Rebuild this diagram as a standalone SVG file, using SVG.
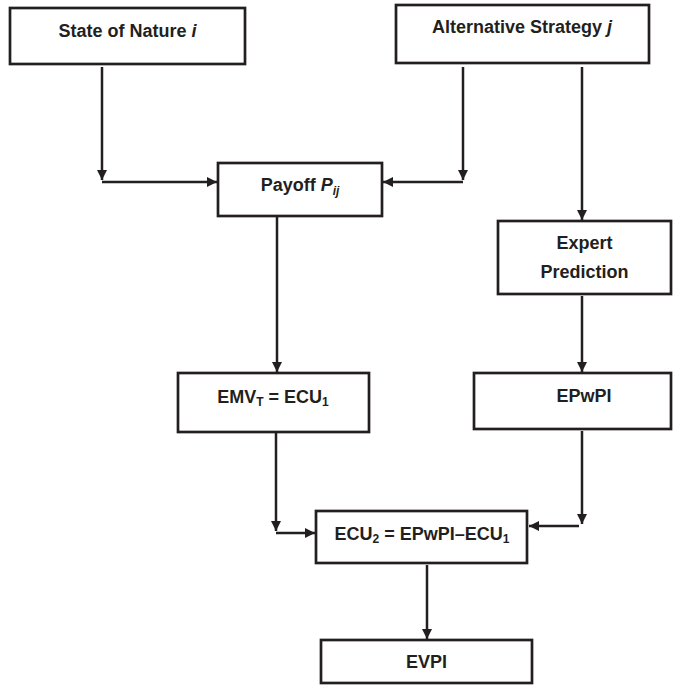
<svg xmlns="http://www.w3.org/2000/svg" width="673" height="685" viewBox="0 0 673 685">
<style>
.box{fill:#fff;stroke:#231f20;stroke-width:2.7}
.lbl{font-family:"Liberation Sans",Arial,sans-serif;font-weight:bold;font-size:18px;fill:#231f20;text-anchor:middle}
.con{fill:none;stroke:#231f20;stroke-width:2.5}
</style>
<defs>
<marker id="ah" viewBox="0 0 10 10" refX="10" refY="5" markerWidth="11" markerHeight="10" markerUnits="userSpaceOnUse" orient="auto">
<path d="M0,0 L10,5 L0,10 Z" fill="#231f20"/>
</marker>
</defs>
<rect width="673" height="685" fill="#fff"/>
<g id="connectors">
<line class="con" x1="102" y1="67" x2="102" y2="180" marker-end="url(#ah)"/>
<line class="con" x1="102" y1="182" x2="217" y2="182" marker-end="url(#ah)"/>
<line class="con" x1="463" y1="67" x2="463" y2="180" marker-end="url(#ah)"/>
<line class="con" x1="463" y1="182" x2="383" y2="182" marker-end="url(#ah)"/>
<line class="con" x1="582" y1="67" x2="582" y2="220" marker-end="url(#ah)"/>
<line class="con" x1="277" y1="217" x2="277" y2="372" marker-end="url(#ah)"/>
<line class="con" x1="582" y1="296" x2="582" y2="372" marker-end="url(#ah)"/>
<line class="con" x1="276" y1="433" x2="276" y2="531" marker-end="url(#ah)"/>
<line class="con" x1="276" y1="533" x2="315" y2="533" marker-end="url(#ah)"/>
<line class="con" x1="582" y1="431" x2="582" y2="524" marker-end="url(#ah)"/>
<line class="con" x1="579" y1="526" x2="529" y2="526" marker-end="url(#ah)"/>
<line class="con" x1="427" y1="565" x2="427" y2="639" marker-end="url(#ah)"/>
</g>
<g id="state">
<rect class="box" x="10" y="8" width="235" height="56"/>
<text class="lbl" x="127.5" y="37">State of Nature <tspan font-style="italic">i</tspan></text>
</g>
<g id="alternative">
<rect class="box" x="396" y="5" width="253" height="58"/>
<text class="lbl" x="522" y="33">Alternative Strategy <tspan font-style="italic">j</tspan></text>
</g>
<g id="payoff">
<rect class="box" x="218" y="163" width="164" height="53"/>
<text class="lbl" x="300" y="191">Payoff <tspan font-style="italic">P</tspan><tspan font-style="italic" font-size="12" dy="4">ij</tspan></text>
</g>
<g id="expert">
<rect class="box" x="498" y="221" width="173" height="73"/>
<text class="lbl" x="584.5" y="249">Expert</text>
<text class="lbl" x="584.5" y="278">Prediction</text>
</g>
<g id="emv">
<rect class="box" x="178" y="373" width="191" height="59"/>
<text class="lbl" x="273" y="403">EMV<tspan font-size="12" dy="3">T</tspan><tspan dy="-3"> = ECU</tspan><tspan font-size="12" dy="3">1</tspan></text>
</g>
<g id="epwpi">
<rect class="box" x="474" y="373" width="197" height="56"/>
<text class="lbl" x="584" y="402">EPwPI</text>
</g>
<g id="ecu2">
<rect class="box" x="316" y="511" width="211" height="52"/>
<text class="lbl" x="422" y="540">ECU<tspan font-size="12" dy="3">2</tspan><tspan dy="-3"> = EPwPI–ECU</tspan><tspan font-size="12" dy="3">1</tspan></text>
</g>
<g id="evpi">
<rect class="box" x="321" y="640" width="211" height="43"/>
<text class="lbl" x="426.5" y="668">EVPI</text>
</g>
</svg>
